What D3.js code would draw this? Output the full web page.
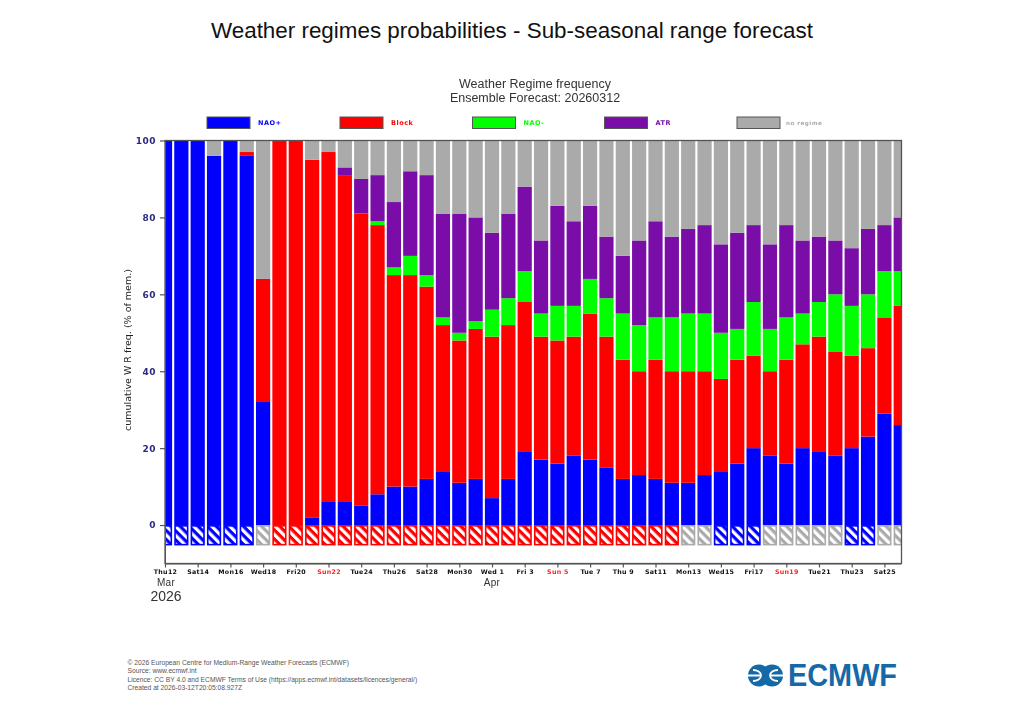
<!DOCTYPE html>
<html>
<head>
<meta charset="utf-8">
<script src="https://cdnjs.cloudflare.com/ajax/libs/d3/7.8.5/d3.min.js"></script>
<style>
  body { margin: 0; background: white; }
  text { font-family: "Liberation Sans", sans-serif; }
  .tickText text { font-family: "DejaVu Sans", sans-serif; }
</style>
</head>
<body>
<div id="chart"></div>
<script>
// Days from Thu 12 Mar 2026 onward, one bar per day
var tickDays = [0, 2, 4, 6, 8, 10, 12, 14, 16, 18, 20, 22, 24, 26, 28, 30, 32, 34, 36, 38, 40, 42, 44];
var tickLabels = ["Thu12", "Sat14", "Mon16", "Wed18", "Fri20", "Sun22", "Tue24", "Thu26", "Sat28", "Mon30", "Wed 1", "Fri 3",
    "Sun 5", "Tue 7", "Thu 9", "Sat11", "Mon13", "Wed15", "Fri17", "Sun19", "Tue21", "Thu23", "Sat25"];
var yTicks = [0, 20, 40, 60, 80, 100];

var regimes = ["NAO+", "Block", "NAO-", "ATR", "no regime"];
var regimeColors = ["#0000ff", "#ff0000", "#00ff00", "#7a0fa8", "#aaaaaa"];

// Percent of members in each regime, per day
var naoPlus = [100, 100, 100, 96, 100, 96, 32, 0, 0, 2, 6, 6, 5, 8, 10, 10, 12, 14, 11, 12, 7, 12, 19, 17, 16, 18, 17, 15, 12, 13, 12, 11, 11, 13, 14, 16, 20, 18, 16, 20, 19, 18, 20, 23, 29, 26];
var block = [0, 0, 0, 0, 0, 1, 32, 100, 100, 93, 91, 85, 76, 70, 55, 55, 50, 38, 37, 39, 42, 40, 39, 32, 32, 31, 38, 34, 31, 27, 31, 29, 29, 27, 24, 27, 24, 22, 27, 27, 30, 27, 24, 23, 25, 31];
var naoMinus = [0, 0, 0, 0, 0, 0, 0, 0, 0, 0, 0, 0, 0, 1, 2, 5, 3, 2, 2, 2, 7, 7, 8, 6, 9, 8, 9, 10, 12, 12, 11, 14, 15, 15, 12, 8, 14, 11, 11, 8, 9, 15, 13, 14, 12, 9];
var atr = [0, 0, 0, 0, 0, 0, 0, 0, 0, 0, 0, 2, 9, 12, 17, 22, 26, 27, 31, 27, 20, 22, 22, 19, 26, 22, 19, 16, 15, 22, 25, 21, 22, 23, 23, 25, 20, 22, 24, 19, 17, 14, 15, 17, 12, 14];
var noRegime = [0, 0, 0, 4, 0, 3, 36, 0, 0, 5, 3, 7, 10, 9, 16, 8, 9, 19, 19, 20, 24, 19, 12, 26, 17, 21, 17, 25, 30, 26, 21, 25, 23, 22, 27, 24, 22, 27, 22, 26, 25, 26, 28, 23, 22, 20];
// Most frequent regime per day, index into regimes
var dominant = [0, 0, 0, 0, 0, 0, 4, 1, 1, 1, 1, 1, 1, 1, 1, 1, 1, 1, 1, 1, 1, 1, 1, 1, 1, 1, 1, 1, 1, 1, 1, 1, 4, 4, 0, 0, 0, 4, 4, 4, 4, 4, 0, 0, 4, 4];

var footerLines = [
    "\u00a9 2026 European Centre for Medium-Range Weather Forecasts (ECMWF)",
    "Source: www.ecmwf.int",
    "Licence: CC BY 4.0 and ECMWF Terms of Use (https://apps.ecmwf.int/datasets/licences/general/)",
    "Created at 2026-03-12T20:05:08.927Z"
];

var svg = d3.select("#chart").append("svg")
    .attr("width", 1024)
    .attr("height", 720);

var defs = svg.append("defs");
defs.append("clipPath").attr("id", "plotClip").append("rect")
    .attr("x", 165).attr("y", 140).attr("width", 736.5).attr("height", 424);
defs.append("filter").attr("id", "soft").append("feGaussianBlur").attr("stdDeviation", 0.4);

// hatch used by the dominant regime strip
regimeColors.forEach(function(color, i) {
    var p = defs.append("pattern")
        .attr("id", "hatch" + i)
        .attr("patternUnits", "userSpaceOnUse")
        .attr("width", 6.4).attr("height", 6.4)
        .attr("patternTransform", "rotate(45)");
    p.append("rect").attr("width", 6.4).attr("height", 6.4).attr("fill", "white");
    p.append("rect").attr("width", 6.4).attr("height", 3.2).attr("fill", color);
});

var x = d3.scaleLinear().domain([0, 45]).range([165, 900.75]);
var y = d3.scaleLinear().domain([-10, 100]).range([563.5, 140.5]);
var barWidth = 14.2;

// Titles
svg.append("text").attr("x", 512).attr("y", 38).attr("text-anchor", "middle")
    .attr("font-size", 22.4).attr("fill", "#111")
    .text("Weather regimes probabilities - Sub-seasonal range forecast");

var chartGroup = svg.append("g").attr("filter", "url(#soft)");

chartGroup.append("text").attr("x", 535).attr("y", 88).attr("text-anchor", "middle")
    .attr("font-size", 12.5).attr("fill", "#333").text("Weather Regime frequency");
chartGroup.append("text").attr("x", 535).attr("y", 102).attr("text-anchor", "middle")
    .attr("font-size", 12.5).attr("fill", "#333").text("Ensemble Forecast: 20260312");

// Legend
var legendX = [207, 340, 472.5, 604.5, 737];
regimes.forEach(function(name, i) {
    chartGroup.append("rect")
        .attr("x", legendX[i]).attr("y", 117)
        .attr("width", 43).attr("height", 11.5)
        .attr("fill", regimeColors[i])
        .attr("stroke", "#555").attr("stroke-width", 1);
    chartGroup.append("text")
        .attr("x", legendX[i] + (i === 4 ? 49 : 51)).attr("y", 125)
        .style("font-family", "DejaVu Sans")
        .attr("font-size", i === 4 ? 5.6 : 6.5).attr("font-weight", "bold")
        .attr("letter-spacing", 0.5)
        .attr("fill", regimeColors[i]).text(name);
});

// Stacked bars
var days = d3.range(naoPlus.length);
var series = [naoPlus, block, naoMinus, atr, noRegime];
var stack = d3.stack()
    .keys(d3.range(series.length))
    .value(function(d, key) { return series[key][d]; });

var bars = chartGroup.append("g").attr("clip-path", "url(#plotClip)");

bars.selectAll("g.regime")
    .data(stack(days))
    .enter().append("g")
    .attr("class", "regime")
    .attr("fill", function(s) { return regimeColors[s.key]; })
    .selectAll("rect")
    .data(function(s) { return s; })
    .enter().append("rect")
    .attr("x", function(d) { return x(d.data) - barWidth / 2; })
    .attr("y", function(d) { return y(d[1]); })
    .attr("width", barWidth)
    .attr("height", function(d) { return y(d[0]) - y(d[1]); });

// Dominant regime strip under the zero line
bars.selectAll("rect.strip")
    .data(days)
    .enter().append("rect")
    .attr("class", "strip")
    .attr("x", function(d) { return x(d) - barWidth / 2 + 0.8; })
    .attr("y", y(0) + 0.8)
    .attr("width", barWidth - 1.6)
    .attr("height", y(-5.3) - y(0) - 1.6)
    .attr("fill", function(d) { return "url(#hatch" + dominant[d] + ")"; })
    .attr("stroke", function(d) { return regimeColors[dominant[d]]; })
    .attr("stroke-width", 1.6);

// Frame
chartGroup.append("rect")
    .attr("x", 165).attr("y", 140.5)
    .attr("width", 736.5).attr("height", 423)
    .attr("fill", "none").attr("stroke", "#555").attr("stroke-width", 1.3);

// Axes
var leftAxis = d3.axisLeft(y).tickValues(yTicks).tickSize(5).tickSizeOuter(0).tickPadding(4);
var bottomAxis = d3.axisBottom(x).tickValues(tickDays).tickSize(4).tickSizeOuter(0).tickPadding(2)
    .tickFormat(function(d, i) { return tickLabels[i]; });

var gLeft = chartGroup.append("g").attr("class", "tickText")
    .attr("transform", "translate(165,0)").call(leftAxis);
gLeft.select(".domain").attr("stroke", "#555");
gLeft.selectAll("line").attr("stroke", "#555").attr("stroke-width", 1.2);
gLeft.selectAll("text")
    .attr("font-size", 9).attr("font-weight", "bold").attr("letter-spacing", 0.5)
    .attr("fill", "#2b2b80");

var gBottom = chartGroup.append("g").attr("class", "tickText")
    .attr("transform", "translate(0,563.5)").call(bottomAxis);
gBottom.select(".domain").attr("stroke", "#555");
gBottom.selectAll("line").attr("stroke", "#555").attr("stroke-width", 1.2);
gBottom.selectAll("text")
    .attr("font-size", 6.3).attr("font-weight", "bold").attr("letter-spacing", 0.3)
    .attr("fill", function(d, i) { return tickLabels[i].indexOf("Sun") === 0 ? "#ff2020" : "#111"; });

// Month and year under the axis
chartGroup.append("text").attr("x", 166).attr("y", 585.5).attr("text-anchor", "middle")
    .attr("font-size", 10).attr("letter-spacing", 0.3).attr("fill", "#333").text("Mar");
chartGroup.append("text").attr("x", 492).attr("y", 585.5).attr("text-anchor", "middle")
    .attr("font-size", 10).attr("letter-spacing", 0.3).attr("fill", "#333").text("Apr");
chartGroup.append("text").attr("x", 166).attr("y", 600.5).attr("text-anchor", "middle")
    .attr("font-size", 14).attr("fill", "#333").text("2026");

// Y axis title
chartGroup.append("text")
    .attr("transform", "translate(130.5,350) rotate(-90)")
    .attr("text-anchor", "middle")
    .style("font-family", "DejaVu Sans")
    .attr("font-size", 9.5).attr("fill", "#222")
    .text("cumulative W R freq. (% of mem.)");

// Footer
svg.selectAll("text.footer")
    .data(footerLines)
    .enter().append("text")
    .attr("class", "footer")
    .attr("x", 127.5)
    .attr("y", function(d, i) { return 665.3 + i * 8.1; })
    .attr("font-size", 6.7).attr("fill", "#555")
    .text(function(d) { return d; });

// ECMWF logo
var logo = svg.append("g");
var logoBlue = "#1569a6";
logo.append("circle").attr("cx", 759).attr("cy", 675.5).attr("r", 11).attr("fill", logoBlue);
logo.append("circle").attr("cx", 772).attr("cy", 675.5).attr("r", 11).attr("fill", logoBlue);
logo.append("path")
    .attr("d", "M747 675.5H761M770 675.5H784M753 670A8 5.5 0 0 1 753 681M778 670A8 5.5 0 0 0 778 681")
    .attr("fill", "none").attr("stroke", "white").attr("stroke-width", 1.8);
logo.append("text").attr("x", 788).attr("y", 686)
    .attr("font-size", 30.5).attr("font-weight", "bold").attr("fill", logoBlue)
    .attr("textLength", 109).attr("lengthAdjust", "spacingAndGlyphs")
    .text("ECMWF");
</script>
</body>
</html>
